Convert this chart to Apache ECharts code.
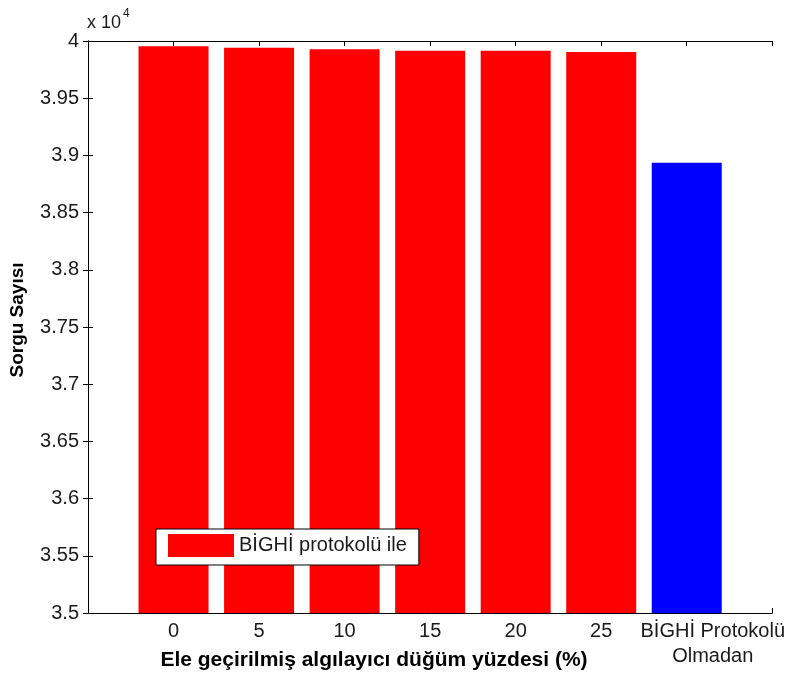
<!DOCTYPE html>
<html><head><meta charset="utf-8">
<script src="https://cdn.jsdelivr.net/npm/echarts@6/dist/echarts.min.js"></script>
<style>html,body{margin:0;padding:0;background:#fff}#c{width:788px;height:675px}</style>
</head><body><div id="c"></div>
<script>
const categories = ['0', '5', '10', '15', '20', '25', 'BİGHİ Protokolü\nOlmadan'];
const withProtocol = [39955, 39942, 39928, 39914, 39914, 39904];
const withoutProtocol = [38935];
const yTicks = [35000, 35500, 36000, 36500, 37000, 37500, 38000, 38500, 39000, 39500, 40000];
const legendName = 'BİGHİ protokolü ile';
const xTitle = 'Ele geçirilmiş algılayıcı düğüm yüzdesi (%)';
const yTitle = 'Sorgu Sayısı';

const font = '"Liberation Sans", Arial, sans-serif';
const txt = '#1a1a1a';
const chart = echarts.init(document.getElementById('c'), null, {renderer: 'canvas'});
const redData = withProtocol.map((v, i) => [i + 1, v]);
const blueData = withoutProtocol.map((v, i) => [withProtocol.length + 1 + i, v]);
const axisLineStyle = {color: '#000', width: 1};
chart.setOption({
  animation: false,
  grid: {left: 88, right: 14, top: 41, bottom: 62},
  legend: {
    data: [{name: legendName, icon: 'rect'}], left: 156, top: 529, orient: 'vertical',
    backgroundColor: '#fff', borderColor: '#000', borderWidth: 1,
    padding: [5, 12, 8, 12], itemWidth: 66, itemHeight: 23, itemGap: 4,
    textStyle: {fontFamily: font, fontSize: 20, color: txt}
  },
  xAxis: [{
    type: 'value', min: 0, max: 8, interval: 1,
    axisLine: {lineStyle: axisLineStyle}, splitLine: {show: false},
    axisTick: {inside: true, length: 5, lineStyle: axisLineStyle},
    axisLabel: {
      margin: 6, fontFamily: font, fontSize: 20, color: txt, lineHeight: 25,
      formatter: v => {
        const i = Math.round(v) - 1;
        if (i < 0 || i >= categories.length) return '';
        if (i === categories.length - 1) return '{last|' + categories[i] + '}';
        return categories[i];
      },
      rich: {last: {fontFamily: font, fontSize: 20, color: txt, lineHeight: 25, padding: [0, 0, 0, 52], align: 'center'}}
    }
  }, {
    type: 'value', min: 0, max: 8, interval: 1, position: 'top',
    axisLine: {lineStyle: axisLineStyle}, splitLine: {show: false},
    axisTick: {inside: true, length: 5, lineStyle: axisLineStyle},
    axisLabel: {show: false}
  }],
  yAxis: [{
    type: 'value', min: yTicks[0], max: yTicks[yTicks.length - 1], interval: yTicks[1] - yTicks[0],
    axisLine: {show: true, lineStyle: axisLineStyle}, splitLine: {show: false},
    axisTick: {show: true, inside: true, length: 5, lineStyle: axisLineStyle},
    axisLabel: {margin: 9, fontFamily: font, fontSize: 20, color: txt,
      formatter: v => String(parseFloat((v / 10000).toFixed(2)))}
  }, {
    type: 'value', min: yTicks[0], max: yTicks[yTicks.length - 1], interval: yTicks[1] - yTicks[0],
    position: 'right',
    axisLine: {show: true, lineStyle: axisLineStyle}, splitLine: {show: false},
    axisTick: {show: true, inside: true, length: 5, lineStyle: axisLineStyle},
    axisLabel: {show: false}
  }],
  series: [{
    name: legendName, type: 'bar', data: redData, barWidth: 70, barGap: '-100%',
    itemStyle: {color: '#ff0000'}
  }, {
    name: 'none', type: 'bar', data: blueData, barWidth: 70, barGap: '-100%',
    itemStyle: {color: '#0000ff'}
  }],
  graphic: [{
    type: 'text', left: 87, top: 8,
    style: {text: '{a|x 10}{b|4}', rich: {
      a: {fontFamily: font, fontSize: 18, fill: txt, padding: [9, 0, 0, 0]},
      b: {fontFamily: font, fontSize: 12, fill: txt, padding: [0, 0, 9, 2]}
    }}
  }, {
    type: 'text', x: 374, y: 660,
    style: {text: xTitle, fontFamily: font, fontSize: 21, fontWeight: 'bold', fill: '#000',
      align: 'center', verticalAlign: 'middle'}
  }, {
    type: 'text', x: 18, y: 320, rotation: Math.PI / 2,
    style: {text: yTitle, fontFamily: font, fontSize: 19, fontWeight: 'bold', fill: '#000',
      align: 'center', verticalAlign: 'middle'}
  }]
});
</script></body></html>
